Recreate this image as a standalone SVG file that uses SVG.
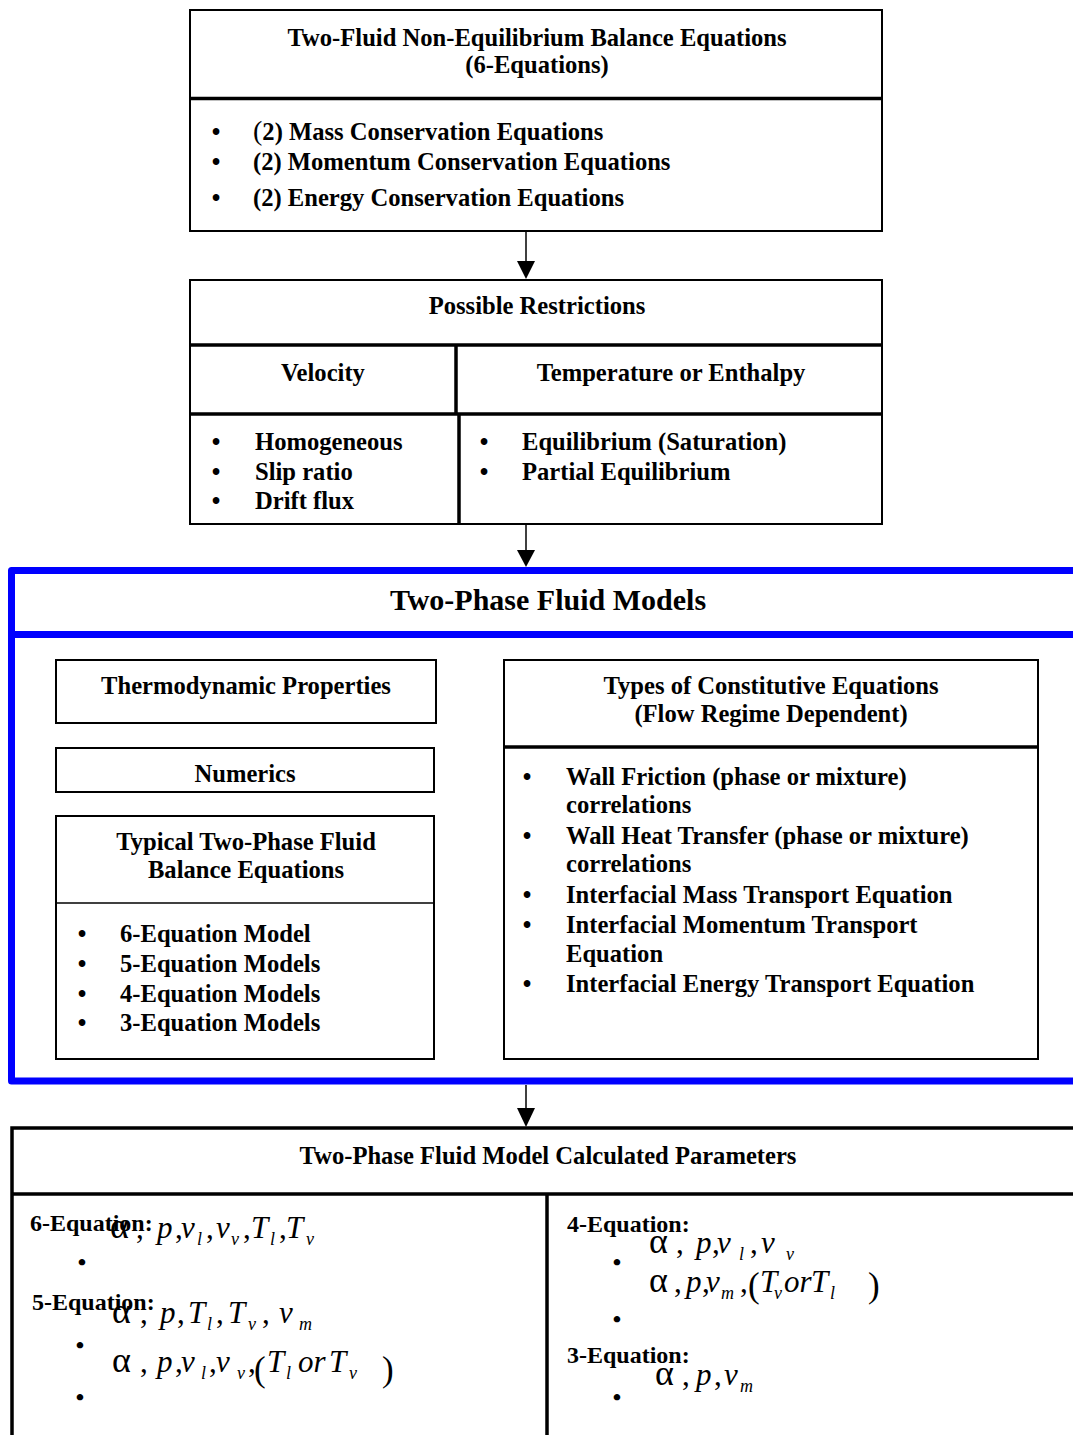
<svg xmlns="http://www.w3.org/2000/svg" width="1073" height="1435" viewBox="0 0 1073 1435">
<style>
.t{font-family:"Liberation Serif","Times New Roman",serif;font-weight:bold;font-size:24.6px;fill:#000}
.c{text-anchor:middle}
.h{font-size:30px}
.lb{font-size:24px}
.b{text-anchor:middle}
.bp{font-weight:normal;font-size:28px}
.box{fill:#fff;stroke:#000;stroke-width:2}
.dv{stroke:#000;stroke-width:3.5;fill:none}
.thin{stroke:#000;stroke-width:1.5;fill:none}
.blue{stroke:#0000ff;stroke-width:7;fill:none}
.m{font-family:"Liberation Serif","Times New Roman",serif;font-style:italic;font-size:31px;fill:#000}
.u{font-style:normal}
.a{font-style:normal;font-size:36px}
.s{font-size:18px}
.p{font-style:normal;font-size:35px}
.arr{stroke:#000;stroke-width:1.5;fill:none}
.ah{fill:#000}
</style>
<rect width="1073" height="1435" fill="#fff"/>

<g id="connectors">
<line class="arr" x1="526" y1="232" x2="526" y2="262"/>
<polygon class="ah" points="517,261 535,261 526,279"/>
<line class="arr" x1="526" y1="524" x2="526" y2="551"/>
<polygon class="ah" points="517,550 535,550 526,567"/>
<line class="arr" x1="526" y1="1085" x2="526" y2="1109"/>
<polygon class="ah" points="517,1108 535,1108 526,1127"/>
</g>

<g id="node-balance">
<rect class="box" x="190" y="10" width="692" height="221"/>
<line class="dv" x1="190" y1="98.5" x2="882" y2="98.5"/>
<text class="t c" x="537" y="46">Two-Fluid  Non-Equilibrium Balance Equations</text>
<text class="t c" x="537" y="73">(6-Equations)</text>
<text class="t b" x="216" y="140">•</text>
<text class="t" x="253" y="140"><tspan class="bp">(</tspan>2) Mass Conservation Equations</text>
<text class="t b" x="216" y="170">•</text>
<text class="t" x="253" y="170">(2) Momentum Conservation Equations</text>
<text class="t b" x="216" y="206">•</text>
<text class="t" x="253" y="206">(2) Energy Conservation Equations</text>
</g>

<g id="node-restrictions">
<rect class="box" x="190" y="280" width="692" height="244"/>
<line class="dv" x1="190" y1="345" x2="882" y2="345"/>
<line class="dv" x1="190" y1="414" x2="882" y2="414"/>
<line class="dv" x1="456" y1="345" x2="456" y2="414"/>
<line class="dv" x1="459" y1="414" x2="459" y2="524"/>
<text class="t c" x="537" y="314">Possible Restrictions</text>
<text class="t c" x="323" y="381">Velocity</text>
<text class="t c" x="671" y="381">Temperature or Enthalpy</text>
<text class="t b" x="216" y="450">•</text>
<text class="t" x="255" y="450">Homogeneous</text>
<text class="t b" x="216" y="480">•</text>
<text class="t" x="255" y="480">Slip ratio</text>
<text class="t b" x="216" y="509">•</text>
<text class="t" x="255" y="509">Drift flux</text>
<text class="t b" x="484" y="450">•</text>
<text class="t" x="522" y="450">Equilibrium (Saturation)</text>
<text class="t b" x="484" y="480">•</text>
<text class="t" x="522" y="480">Partial Equilibrium</text>
</g>

<g id="node-models">
<path class="blue" d="M1073,570.5 H11.5 V1081 H1073" stroke-linejoin="round"/>
<line class="blue" x1="11.5" y1="634.5" x2="1073" y2="634.5"/>
<text class="t c h" x="548" y="610">Two-Phase Fluid Models</text>
</g>

<g id="node-thermo">
<rect class="box" x="56" y="660" width="380" height="63"/>
<text class="t c" x="246" y="694">Thermodynamic Properties</text>
</g>

<g id="node-numerics">
<rect class="box" x="56" y="748" width="378" height="44"/>
<text class="t c" x="245" y="782">Numerics</text>
</g>

<g id="node-typical">
<rect class="box" x="56" y="816" width="378" height="243"/>
<line class="thin" x1="56" y1="903" x2="434" y2="903"/>
<text class="t c" x="246" y="850">Typical Two-Phase Fluid</text>
<text class="t c" x="246" y="878">Balance Equations</text>
<text class="t b" x="82" y="942">•</text>
<text class="t" x="120" y="942">6-Equation Model</text>
<text class="t b" x="82" y="972">•</text>
<text class="t" x="120" y="972">5-Equation Models</text>
<text class="t b" x="82" y="1002">•</text>
<text class="t" x="120" y="1002">4-Equation Models</text>
<text class="t b" x="82" y="1031">•</text>
<text class="t" x="120" y="1031">3-Equation Models</text>
</g>

<g id="node-constitutive">
<rect class="box" x="504" y="660" width="534" height="399"/>
<line class="dv" x1="504" y1="747" x2="1038" y2="747"/>
<text class="t c" x="771" y="694">Types of Constitutive Equations</text>
<text class="t c" x="771" y="722">(Flow Regime Dependent)</text>
<text class="t b" x="527" y="785">•</text>
<text class="t" x="566" y="785">Wall Friction (phase or mixture)</text>
<text class="t" x="566" y="813">correlations</text>
<text class="t b" x="527" y="844">•</text>
<text class="t" x="566" y="844">Wall Heat Transfer (phase or mixture)</text>
<text class="t" x="566" y="872">correlations</text>
<text class="t b" x="527" y="903">•</text>
<text class="t" x="566" y="903">Interfacial Mass Transport Equation</text>
<text class="t b" x="527" y="933">•</text>
<text class="t" x="566" y="933">Interfacial Momentum Transport</text>
<text class="t" x="566" y="962">Equation</text>
<text class="t b" x="527" y="992">•</text>
<text class="t" x="566" y="992">Interfacial Energy Transport Equation</text>
</g>

<g id="node-parameters">
<path d="M1073,1128 H12 V1435" fill="none" stroke="#000" stroke-width="3.5"/>
<line class="dv" x1="12" y1="1194" x2="1073" y2="1194"/>
<line class="dv" x1="547" y1="1194" x2="547" y2="1435"/>
<text class="t c" x="548" y="1164">Two-Phase Fluid Model Calculated Parameters</text>

<text class="t lb" x="30" y="1231">6-Equation:</text>
<text class="t b lb" x="82" y="1270">•</text>
<text class="m" y="1238"><tspan class="a" x="110">α</tspan><tspan class="u" x="136">,</tspan><tspan x="157">p</tspan><tspan class="u" x="175">,</tspan><tspan x="181">v</tspan><tspan class="s" x="197" y="1245">l</tspan><tspan class="u" x="206" y="1238">,</tspan><tspan x="216">v</tspan><tspan class="s" x="231" y="1245">v</tspan><tspan class="u" x="243" y="1238">,</tspan><tspan x="251">T</tspan><tspan class="s" x="270" y="1245">l</tspan><tspan class="u" x="279" y="1238">,</tspan><tspan x="286">T</tspan><tspan class="s" x="306" y="1245">v</tspan></text>

<text class="t lb" x="32" y="1310">5-Equation:</text>
<text class="t b lb" x="80" y="1353">•</text>
<text class="m" y="1323"><tspan class="a" x="112">α</tspan><tspan class="u" x="140">,</tspan><tspan x="160">p</tspan><tspan class="u" x="177">,</tspan><tspan x="188">T</tspan><tspan class="s" x="207" y="1330">l</tspan><tspan class="u" x="216" y="1323">,</tspan><tspan x="228">T</tspan><tspan class="s" x="248" y="1330">v</tspan><tspan class="u" x="262" y="1323">,</tspan><tspan x="279">v</tspan><tspan class="s" x="299" y="1330">m</tspan></text>
<text class="t b lb" x="80" y="1405">•</text>
<text class="m" y="1372"><tspan class="a" x="112">α</tspan><tspan class="u" x="140">,</tspan><tspan x="157">p</tspan><tspan class="u" x="175">,</tspan><tspan x="181">v</tspan><tspan class="s" x="201" y="1379">l</tspan><tspan class="u" x="209" y="1372">,</tspan><tspan x="216">v</tspan><tspan class="s" x="237" y="1379">v</tspan><tspan class="u" x="248" y="1372">,</tspan><tspan class="p" x="254" y="1381">(</tspan><tspan x="267" y="1372">T</tspan><tspan class="s" x="286" y="1379">l</tspan><tspan x="298" y="1372">or</tspan><tspan x="329">T</tspan><tspan class="s" x="349" y="1379">v</tspan><tspan class="p" x="382" y="1381">)</tspan></text>

<text class="t lb" x="567" y="1232">4-Equation:</text>
<text class="t b lb" x="617" y="1270">•</text>
<text class="m" y="1253"><tspan class="a" x="649">α</tspan><tspan class="u" x="676">,</tspan><tspan x="696">p</tspan><tspan class="u" x="712">,</tspan><tspan x="717">v</tspan><tspan class="s" x="739" y="1260">l</tspan><tspan class="u" x="750" y="1253">,</tspan><tspan x="761">v</tspan><tspan class="s" x="786" y="1260">v</tspan></text>
<text class="t b lb" x="617" y="1327">•</text>
<text class="m" y="1292"><tspan class="a" x="649">α</tspan><tspan class="u" x="674">,</tspan><tspan x="686">p</tspan><tspan class="u" x="702">,</tspan><tspan x="706">v</tspan><tspan class="s" x="721" y="1299">m</tspan><tspan class="u" x="740" y="1292">,</tspan><tspan class="p" x="748" y="1297">(</tspan><tspan x="760" y="1292">T</tspan><tspan class="s" x="774" y="1299">v</tspan><tspan x="784" y="1292">or</tspan><tspan x="811">T</tspan><tspan class="s" x="830" y="1299">l</tspan><tspan class="p" x="868" y="1297">)</tspan></text>

<text class="t lb" x="567" y="1363">3-Equation:</text>
<text class="t b lb" x="617" y="1405">•</text>
<text class="m" y="1385"><tspan class="a" x="655">α</tspan><tspan class="u" x="682">,</tspan><tspan x="696">p</tspan><tspan class="u" x="714">,</tspan><tspan x="724">v</tspan><tspan class="s" x="740" y="1392">m</tspan></text>
</g>
</svg>
